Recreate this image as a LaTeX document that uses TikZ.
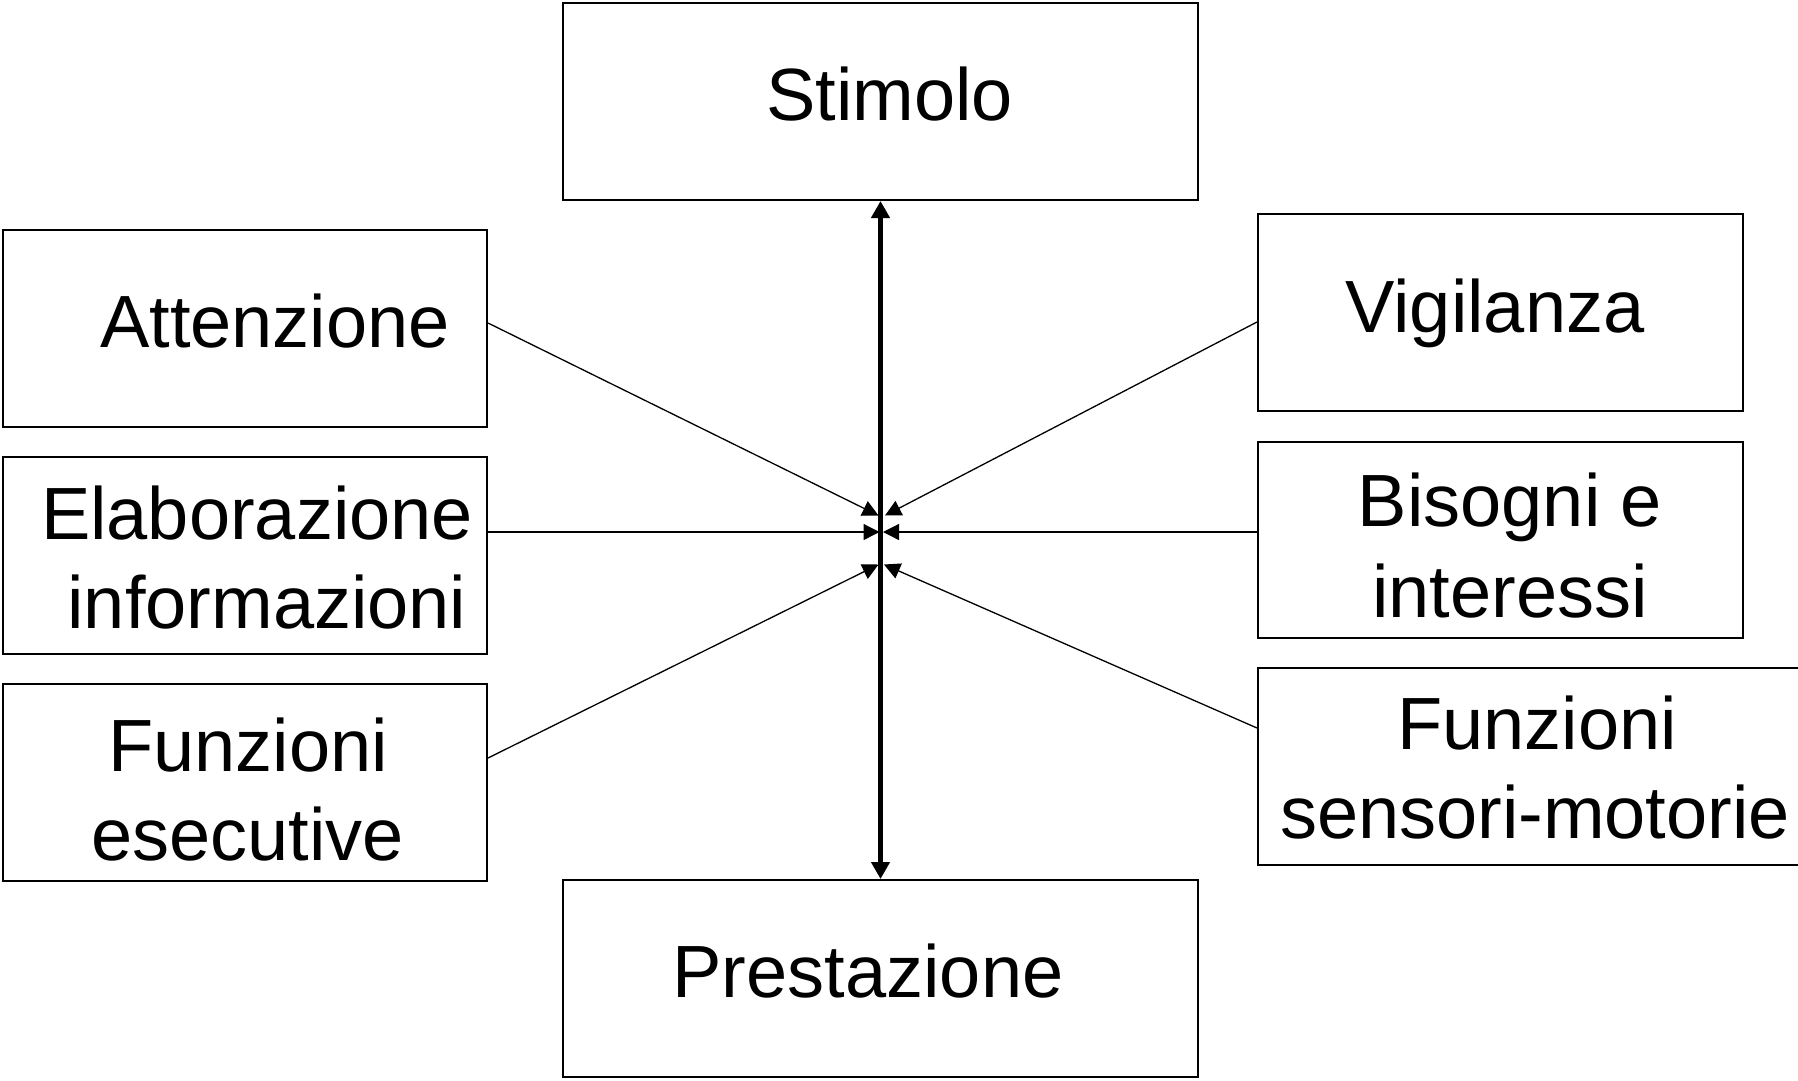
\documentclass[tikz,border=0pt]{standalone}
\usepackage{fontspec}
\setmainfont{Liberation Sans}
\usetikzlibrary{arrows.meta}
\begin{document}
\begin{tikzpicture}[x=1pt,y=-1pt,
  box/.style={draw=black,line width=2pt,rectangle,inner sep=0pt,minimum height=197pt},
  lbl/.style={anchor=base,inner sep=0pt,font=\fontsize{74pt}{89pt}\selectfont},
  conn/.style={line width=1.3pt,-{Triangle[length=16pt,width=16pt]}},
  mainarrow/.style={line width=4.5pt,{Triangle[length=17pt,width=18pt]}-{Triangle[length=17pt,width=18pt]}}]
\useasboundingbox (0,0) rectangle (1798,1080);
\fill[white] (0,0) rectangle (1798,1080);
% boxes
\node[box,minimum width=635pt] (stim) at (880.5,101.5) {};
\node[box,minimum width=635pt] (pres) at (880.5,978.5) {};
\node[box,minimum width=484pt] (att) at (245,328.5) {};
\node[box,minimum width=484pt] (elab) at (245,555.5) {};
\node[box,minimum width=484pt] (fese) at (245,782.5) {};
\node[box,minimum width=485pt] (vig) at (1500.5,312.5) {};
\node[box,minimum width=485pt,minimum height=196pt] (bis) at (1500.5,540) {};
\node[box,minimum width=554pt] (fsm) at (1535,766.5) {};
% texts
\node[lbl] (tstim) at (889.5,120) {Stimolo};
\node[lbl] (tpres) at (868,997) {Prestazione};
\node[lbl] (tatt) at (275,347) {Attenzione};
\node[lbl] (telab1) at (257,539) {Elaborazione};
\node[lbl] (telab2) at (267,628) {informazioni};
\node[lbl] (tfese1) at (248,771) {Funzioni};
\node[lbl] (tfese2) at (247.5,860) {esecutive};
\node[lbl] (tvig) at (1495,332) {Vigilanza};
\node[lbl] (tbis1) at (1510,526) {Bisogni e};
\node[lbl] (tbis2) at (1510,617) {interessi};
\node[lbl] (tfsm1) at (1537,749) {Funzioni};
\node[lbl] (tfsm2) at (1535,838) {sensori-motorie};
% central tips
\coordinate (pA) at (878.5,515.5);
\coordinate (pV) at (885,515.5);
\coordinate (pE) at (879.5,532);
\coordinate (pB) at (883,532);
\coordinate (pF) at (878.5,564.5);
\coordinate (pS) at (884,564.5);
% connectors
\draw[mainarrow] (stim.south) -- (pres.north);
\draw[conn] ([yshift=5.5pt]att.east) -- (pA);
\draw[conn] ([yshift=-9.5pt]vig.west) -- (pV);
\draw[conn] ([yshift=23.5pt]elab.east) -- (pE);
\draw[conn] ([yshift=8pt]bis.west) -- (pB);
\draw[conn] ([yshift=24.5pt]fese.east) -- (pF);
\draw[conn] ([yshift=38.5pt]fsm.west) -- (pS);
\end{tikzpicture}
\end{document}
